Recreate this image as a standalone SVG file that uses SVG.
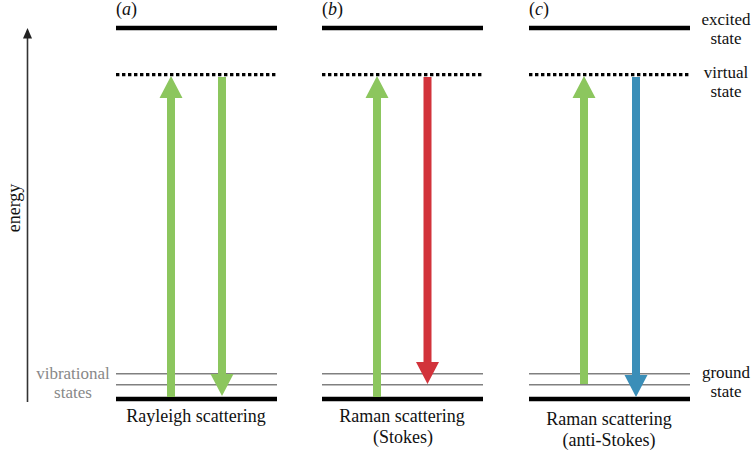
<svg xmlns="http://www.w3.org/2000/svg" width="754" height="452" viewBox="0 0 754 452" font-family="'Liberation Serif', 'DejaVu Serif', 'Times New Roman', serif">
<style>
text{font-family:"Liberation Serif","DejaVu Serif","Times New Roman",serif;font-size:18px;fill:#111}
.c{text-anchor:middle}
.s{font-size:17px}
.g{fill:#888}
.lvl{stroke:#000;stroke-width:4.5}
.vir{stroke:#000;stroke-width:3.2;stroke-dasharray:3.4 2.6}
.vib{stroke:#808080;stroke-width:1.6}
.green{fill:#8cc65e}
.red{fill:#d2333b}
.blue{fill:#3a8eb8}
</style>
<rect width="754" height="452" fill="#fff"/>
<g id="energy-axis">
<line x1="27.5" y1="36" x2="27.5" y2="402" stroke="#333" stroke-width="1.6"/>
<polygon points="27.5,28 23,38.5 32,38.5" fill="#222"/>
<text class="c" transform="translate(20,208) rotate(-90)">energy</text>
</g>
<g id="panel-a">
<text x="116" y="15">(<tspan font-style="italic">a</tspan>)</text>
<line class="lvl" x1="116" y1="28" x2="277" y2="28"/>
<line class="vir" x1="116" y1="74.7" x2="277" y2="74.7"/>
<line class="vib" x1="116" y1="373.7" x2="277" y2="373.7"/>
<line class="vib" x1="116" y1="384.8" x2="277" y2="384.8"/>
<line class="lvl" x1="116" y1="399" x2="277" y2="399"/>
<text class="c" x="196" y="422">Rayleigh scattering</text>
</g>
<g id="panel-b">
<text x="322" y="15">(<tspan font-style="italic">b</tspan>)</text>
<line class="lvl" x1="322" y1="28" x2="483" y2="28"/>
<line class="vir" x1="322" y1="74.7" x2="483" y2="74.7"/>
<line class="vib" x1="322" y1="373.7" x2="483" y2="373.7"/>
<line class="vib" x1="322" y1="384.8" x2="483" y2="384.8"/>
<line class="lvl" x1="322" y1="399" x2="483" y2="399"/>
<text class="c" x="402" y="422">Raman scattering</text>
<text class="c" x="403" y="443">(Stokes)</text>
</g>
<g id="panel-c">
<text x="529" y="15">(<tspan font-style="italic">c</tspan>)</text>
<line class="lvl" x1="529" y1="28" x2="690" y2="28"/>
<line class="vir" x1="529" y1="74.7" x2="690" y2="74.7"/>
<line class="vib" x1="529" y1="373.7" x2="690" y2="373.7"/>
<line class="vib" x1="529" y1="384.8" x2="690" y2="384.8"/>
<line class="lvl" x1="529" y1="399" x2="690" y2="399"/>
<text class="c" x="609" y="425">Raman scattering</text>
<text class="c" x="609" y="446">(anti-Stokes)</text>
</g>
<g id="labels">
<text class="c s" x="726" y="25">excited</text>
<text class="c s" x="726" y="44">state</text>
<text class="c s" x="726" y="78">virtual</text>
<text class="c s" x="726" y="97">state</text>
<text class="c s" x="726" y="378">ground</text>
<text class="c s" x="726" y="397">state</text>
<text class="c s g" x="73" y="379">vibrational</text>
<text class="c s g" x="73" y="398">states</text>
</g>
<g id="connectors">
<polygon class="green" points="171,76 182.5,98 175,98 175,397 167,397 167,98 159.5,98"/>
<polygon class="green" points="218,77 226,77 226,374 233.5,374 222,396 210.5,374 218,374"/>
<polygon class="green" points="377,76 388.5,98 381,98 381,397 373,397 373,98 365.5,98"/>
<polygon class="red" points="423.5,77 431.5,77 431.5,362 439,362 427.5,384 416,362 423.5,362"/>
<polygon class="green" points="584,76 595.5,98 588,98 588,384 580,384 580,98 572.5,98"/>
<polygon class="blue" points="632,77 640,77 640,375 647.5,375 636,397 624.5,375 632,375"/>
</g>
</svg>
